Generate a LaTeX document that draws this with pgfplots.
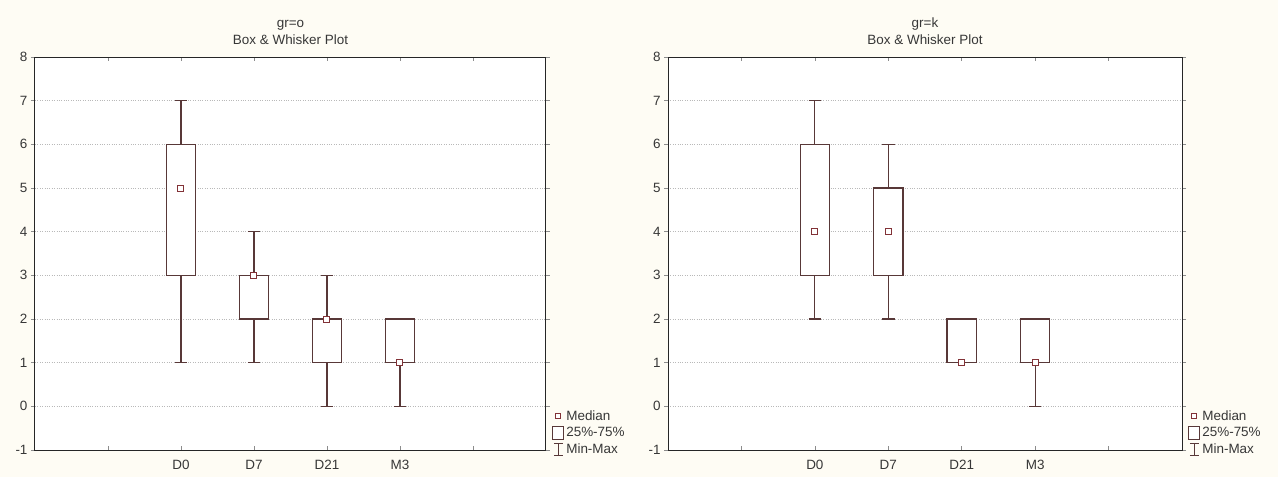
\documentclass[border=0pt]{standalone}
\usepackage{pgfplots}
\pgfplotsset{compat=1.18}
\usepgfplotslibrary{statistics}
\usepackage{fontspec}
\setmainfont{Liberation Sans}
\definecolor{bg}{RGB}{254,252,244}
\definecolor{boxc}{RGB}{88,56,56}
\definecolor{medc}{RGB}{130,50,55}
\definecolor{gridc}{RGB}{185,185,185}
\definecolor{txt}{RGB}{55,55,55}

\pgfplotsset{
  bw/.style={
    scale only axis, width=511bp, height=393bp,
    xmin=0, xmax=7, ymin=-1, ymax=8,
    xtick={1,...,6}, xticklabels={,D0,D7,D21,M3,},
    ytick={-1,...,8},
    ymajorgrids, grid style={gridc, dotted, line width=0.8bp},
    axis line style={black!85, line width=1bp},
    tick style={black!45, line width=0.6bp}, major tick length=4bp,
    xtick align=inside, ytick align=outside,
    axis background/.style={fill=white},
    tick label style={font=\fontsize{13.5}{15}\selectfont, text=txt},
    xticklabel style={yshift=-7bp},
    /pgf/number format/assume math mode=true,
    title style={align=center, font=\fontsize{13.5}{17}\selectfont, text=txt, at={(0.5,1)}, anchor=south, yshift=6bp, inner sep=0pt},
    legend style={at={(1.012,0)}, anchor=south west, yshift=-7bp, draw=none, fill=none,
      font=\fontsize{13.5}{15}\selectfont, text=txt, row sep=1.5bp, inner sep=0pt, cells={anchor=west}},
    legend cell align=left,
    boxplot/draw direction=y,
    boxplot/box extend=0.4, boxplot/whisker extend=0.17,
    boxplot/draw/median/.code={},
    boxplot/every box/.style={fill=white},
  },
  bx/.style={boxc, line width=1.25bp, forget plot},
  med/.style={only marks, mark=square*, mark size=3bp, mark options={fill=white, draw=medc, line width=1bp}, forget plot},
}

\newcommand{\legendstuff}{%
  \addlegendimage{legend image code/.code={\path[draw=none,fill=none] (0bp,-6bp) rectangle (12bp,6bp); \draw[medc, line width=0.8bp, fill=white] (3.5bp,-2.5bp) rectangle (8.5bp,2.5bp);}}
  \addlegendentry{Median}
  \addlegendimage{legend image code/.code={\path[draw=none,fill=none] (0bp,-6bp) rectangle (12bp,6bp); \draw[boxc, line width=0.8bp, fill=white] (0.5bp,-6.5bp) rectangle (11.5bp,6.5bp);}}
  \addlegendentry{25\%-75\%}
  \addlegendimage{legend image code/.code={\path[draw=none,fill=none] (0bp,-6bp) rectangle (12bp,6bp); \draw[boxc, line width=0.8bp, fill=none] (1.5bp,6bp)--(10.5bp,6bp) (6bp,6bp)--(6bp,-6bp) (1.5bp,-6bp)--(10.5bp,-6bp);}}
  \addlegendentry{Min-Max}
}

\begin{document}
\begin{tikzpicture}
\fill[bg] (0,0) rectangle (1278bp,477bp);
\useasboundingbox (0,0) rectangle (1278bp,477bp);

\begin{axis}[bw, at={(35bp,27bp)}, anchor=south west, title={gr=o\\Box \& Whisker Plot}]
\legendstuff
\addplot[bx, boxplot prepared={draw position=2, lower whisker=1, lower quartile=3, median=5, upper quartile=6, upper whisker=7}] coordinates {};
\addplot[bx, boxplot prepared={draw position=3, lower whisker=1, lower quartile=2, median=3, upper quartile=3, upper whisker=4}] coordinates {};
\addplot[bx, boxplot prepared={draw position=4, lower whisker=0, lower quartile=1, median=2, upper quartile=2, upper whisker=3}] coordinates {};
\addplot[bx, boxplot prepared={draw position=5, lower whisker=0, lower quartile=1, median=1, upper quartile=2, upper whisker=2}] coordinates {};
\addplot[med] coordinates {(2,5) (3,3) (4,2) (5,1)};
\end{axis}

\begin{axis}[bw, width=514bp, at={(668bp,27bp)}, anchor=south west, title={gr=k\\Box \& Whisker Plot}]
\legendstuff
\addplot[bx, boxplot prepared={draw position=2, lower whisker=2, lower quartile=3, median=4, upper quartile=6, upper whisker=7}] coordinates {};
\addplot[bx, boxplot prepared={draw position=3, lower whisker=2, lower quartile=3, median=4, upper quartile=5, upper whisker=6}] coordinates {};
\addplot[bx, boxplot prepared={draw position=4, lower whisker=1, lower quartile=1, median=1, upper quartile=2, upper whisker=2}] coordinates {};
\addplot[bx, boxplot prepared={draw position=5, lower whisker=0, lower quartile=1, median=1, upper quartile=2, upper whisker=2}] coordinates {};
\addplot[med] coordinates {(2,4) (3,4) (4,1) (5,1)};
\end{axis}
\end{tikzpicture}
\end{document}
